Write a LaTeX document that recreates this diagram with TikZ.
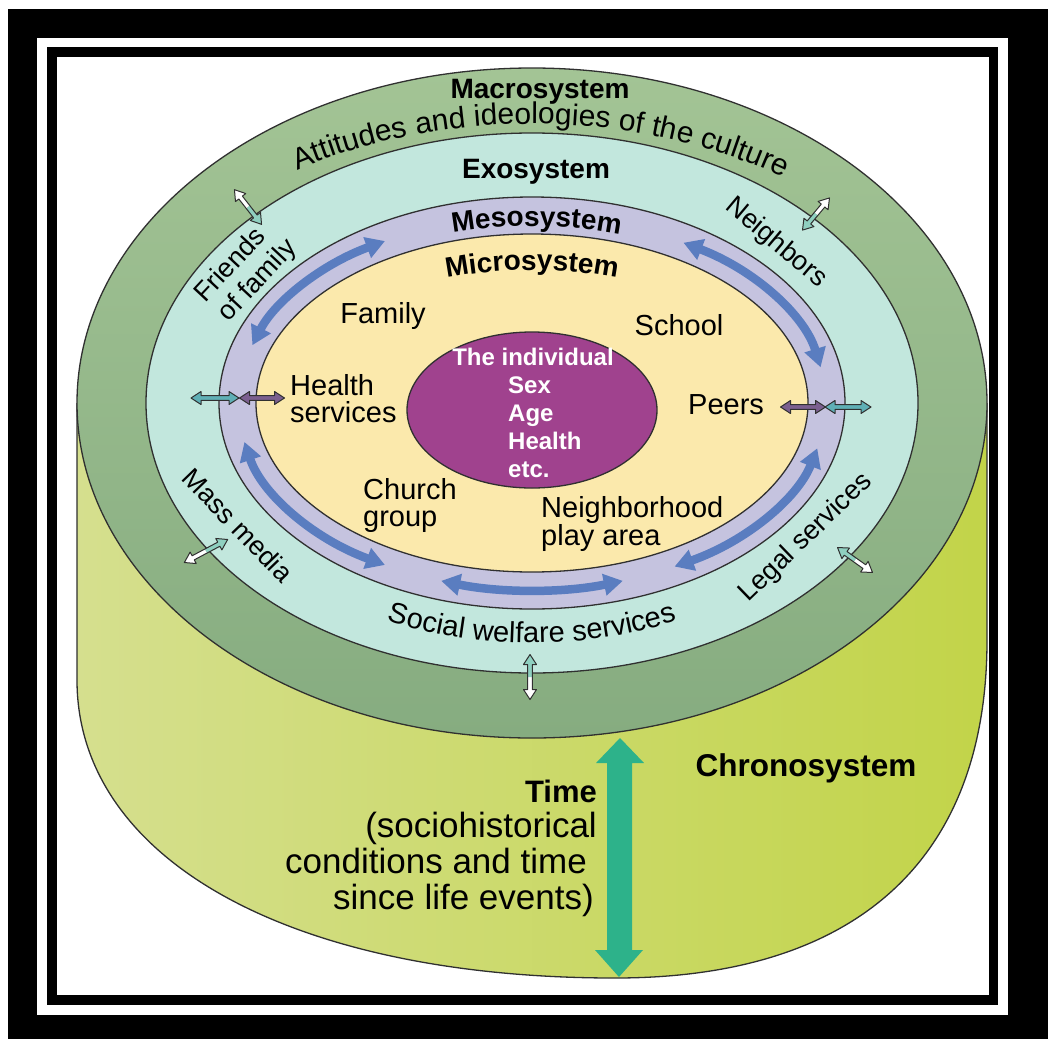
\documentclass[tikz,border=0pt]{standalone}
\usepackage{fontspec}
\setmainfont{Liberation Sans}
\usetikzlibrary{arrows.meta,decorations.text}
\definecolor{macroT}{HTML}{A3C495}
\definecolor{macroB}{HTML}{86AC80}
\definecolor{exoc}{HTML}{C2E7DD}
\definecolor{mesoc}{HTML}{C5C3DF}
\definecolor{microc}{HTML}{FBE9AC}
\definecolor{indc}{HTML}{A0428E}
\definecolor{mesoblue}{HTML}{5A7DC0}
\definecolor{timec}{HTML}{2DB28A}
\definecolor{sideL}{HTML}{D5DF8E}
\definecolor{sideM}{HTML}{E6EBB2}
\definecolor{sideR}{HTML}{C2D449}
\definecolor{ringcy}{HTML}{8FD0C0}
\definecolor{cyanA}{HTML}{5FAFB5}
\definecolor{purA}{HTML}{7B5F8F}
\definecolor{ringline}{HTML}{303030}
\newcommand\fsz[1]{\fontsize{#1}{#1}\selectfont}
\newcommand\dblarr[6]{%
  \begin{scope}[shift={(#1,-#2)}, rotate=#3]
    \pgfmathsetmacro\hlen{#4/2}
    \pgfmathsetmacro\hb{#4/2-10}
    \fill[#5] (-\hlen,0) -- (-\hb,6.5) -- (-\hb,2.3) -- (0,2.3) -- (0,-2.3) -- (-\hb,-2.3) -- (-\hb,-6.5) -- cycle;
    \fill[#6] (\hlen,0) -- (\hb,6.5) -- (\hb,2.3) -- (0,2.3) -- (0,-2.3) -- (\hb,-2.3) -- (\hb,-6.5) -- cycle;
    \draw[ringline, line width=1pt, line join=round] (-\hlen,0) -- (-\hb,6.5) -- (-\hb,2.3) -- (\hb,2.3) -- (\hb,6.5) -- (\hlen,0) -- (\hb,-6.5) -- (\hb,-2.3) -- (-\hb,-2.3) -- (-\hb,-6.5) -- cycle;
  \end{scope}}
\begin{document}
\begin{tikzpicture}[x=1pt,y=1pt,
  ring/.style={draw=ringline, line width=1.3pt},
  lab/.style={inner sep=0pt, font=\fsz{29}},
  blab/.style={inner sep=0pt, font=\bfseries\fsz{28}},
  elab/.style={inner sep=0pt, font=\fsz{27}},
  ilab/.style={inner sep=0pt, font=\bfseries\fsz{24}, text=white},
  tlab/.style={inner sep=0pt, font=\fsz{35}},
  mesoarrow/.style={line width=8.5pt, draw=mesoblue, {Triangle[length=19pt,width=21pt]}-{Triangle[length=19pt,width=21pt]}}
]
\useasboundingbox (0,0) rectangle (1048,-1039);
% frame
\fill[white] (0,0) rectangle (1048,-1039);
\fill[black] (8,-9) rectangle (1048,-1039);
\fill[white] (37,-38) rectangle (1008,-1015);
\fill[black] (47,-47) rectangle (998,-1005);
\fill[white] (57,-57) rectangle (989,-995);
% cylinder side
\shade[left color=sideL, middle color=sideM, right color=sideR]
  (77,-403) -- (77,-680) .. controls (77,-859) and (290,-978) .. (615,-978)
  .. controls (856,-978) and (987,-860) .. (987,-640) -- (987,-403) -- cycle;
\draw[ring] (77,-403) -- (77,-680) .. controls (77,-859) and (290,-978) .. (615,-978)
  .. controls (856,-978) and (987,-860) .. (987,-640) -- (987,-403);
% rings
\draw[ring, top color=macroT, bottom color=macroB] (532,-403) ellipse [x radius=455pt, y radius=335pt];
\draw[ring, fill=exoc] (532,-403) ellipse [x radius=386pt, y radius=270pt];
\draw[ring, fill=mesoc] (532,-403) ellipse [x radius=313pt, y radius=206pt];
\draw[ring, fill=microc] (532,-403) ellipse [x radius=276pt, y radius=169pt];
\draw[ring, fill=indc] (532,-410) ellipse [x radius=125pt, y radius=78pt];
% mesosystem arrows
\draw[mesoarrow] (532,-403) ++(162:294pt and 187pt) arc[start angle=162, end angle=120, x radius=294pt, y radius=187pt];
\draw[mesoarrow] (532,-403) ++(59:294pt and 187pt) arc[start angle=59, end angle=11, x radius=294pt, y radius=187pt];
\draw[mesoarrow] (532,-403) ++(-14:294pt and 187pt) arc[start angle=-14, end angle=-61, x radius=294pt, y radius=187pt];
\draw[mesoarrow] (532,-403) ++(-108:294pt and 187pt) arc[start angle=-108, end angle=-72, x radius=294pt, y radius=187pt];
\draw[mesoarrow] (532,-403) ++(-120:294pt and 187pt) arc[start angle=-120, end angle=-168, x radius=294pt, y radius=187pt];
% small ring arrows
\dblarr{248}{207}{-52}{44}{white}{ringcy}
\dblarr{816}{214}{-130}{42}{white}{ringcy}
\dblarr{206}{551}{28}{49}{white}{ringcy}
\dblarr{855}{560}{144.5}{43}{white}{ringcy}
\dblarr{530}{677}{90}{45}{white}{ringcy}
\dblarr{215}{398}{0}{48}{cyanA}{cyanA}
\dblarr{262}{398}{0}{45}{purA}{purA}
\dblarr{803}{407}{0}{45}{purA}{purA}
\dblarr{848}{407}{0}{46}{cyanA}{cyanA}
% time arrow
\fill[timec] (620,-738) -- (644,-763) -- (632,-763) -- (632,-950) -- (643,-950) -- (619,-977) -- (595,-950) -- (607,-950) -- (607,-763) -- (596,-763) -- cycle;
% labels
\node[blab, anchor=base] (macro) at (540,-98) {Macrosystem};
\path[decorate, decoration={text along path, text align=center, text={|\fsz{30}|Attitudes and ideologies of the culture}}]
  (532,-403) ++(137:426pt and 279pt) arc[start angle=137, end angle=40, x radius=426pt, y radius=279pt];
\node[blab, anchor=base] (exo) at (536,-178) {Exosystem};
\path[decorate, decoration={text along path, text align=center, text={|\bfseries\fsz{28}|Mesosystem}}]
  (532,-403) ++(125:290pt and 177pt) arc[start angle=125, end angle=53, x radius=290pt, y radius=177pt];
\path[decorate, decoration={text along path, text align=center, text={|\bfseries\fsz{28}|Microsystem}}]
  (532,-403) ++(130:250pt and 133pt) arc[start angle=130, end angle=50, x radius=250pt, y radius=133pt];
\path[decorate, decoration={text along path, text align=center, text={|\fsz{29}|Social welfare services}}]
  (532,-403) ++(-125:345pt and 240pt) arc[start angle=-125, end angle=-55, x radius=345pt, y radius=240pt];
\node[elab, rotate=47] (fr1) at (229,-264) {Friends};
\node[elab, rotate=47] (fr2) at (258,-281) {of family};
\node[elab, rotate=-40] (nb) at (776,-243) {Neighbors};
\node[elab, rotate=-46] (mm) at (238,-525) {Mass media};
\node[elab, rotate=44] (ls) at (806,-538) {Legal services};
% microsystem labels
\node[lab, anchor=base] (fam) at (383,-323) {Family};
\node[lab, anchor=base] (sch) at (679,-335) {School};
\node[lab, anchor=base west] (hs1) at (290,-395) {Health};
\node[lab, anchor=base west] (hs2) at (290,-422) {services};
\node[lab, anchor=base west] (peer) at (688,-414) {Peers};
\node[lab, anchor=base west] (ch1) at (363,-499) {Church};
\node[lab, anchor=base west] (ch2) at (363,-526) {group};
\node[lab, anchor=base west] (nh1) at (541,-517) {Neighborhood};
\node[lab, anchor=base west] (nh2) at (541,-545) {play area};
% individual
\node[ilab, anchor=base] (ind1) at (533,-365) {The individual};
\node[ilab, anchor=base west] (ind2) at (508,-393) {Sex};
\node[ilab, anchor=base west] (ind3) at (508,-421) {Age};
\node[ilab, anchor=base west] (ind4) at (508,-449) {Health};
\node[ilab, anchor=base west] (ind5) at (508,-477) {etc.};
% chronosystem
\node[inner sep=0pt, font=\bfseries\fsz{31.5}, anchor=base] (chrono) at (806,-776) {Chronosystem};
\node[inner sep=0pt, font=\bfseries\fsz{31}, anchor=base east] (time) at (597,-802) {Time};
\node[tlab, anchor=base east] (t1) at (597,-837) {(sociohistorical};
\node[tlab, anchor=base east] (t2) at (587,-873) {conditions and time};
\node[tlab, anchor=base east] (t3) at (594,-909) {since life events)};
\end{tikzpicture}
\end{document}
